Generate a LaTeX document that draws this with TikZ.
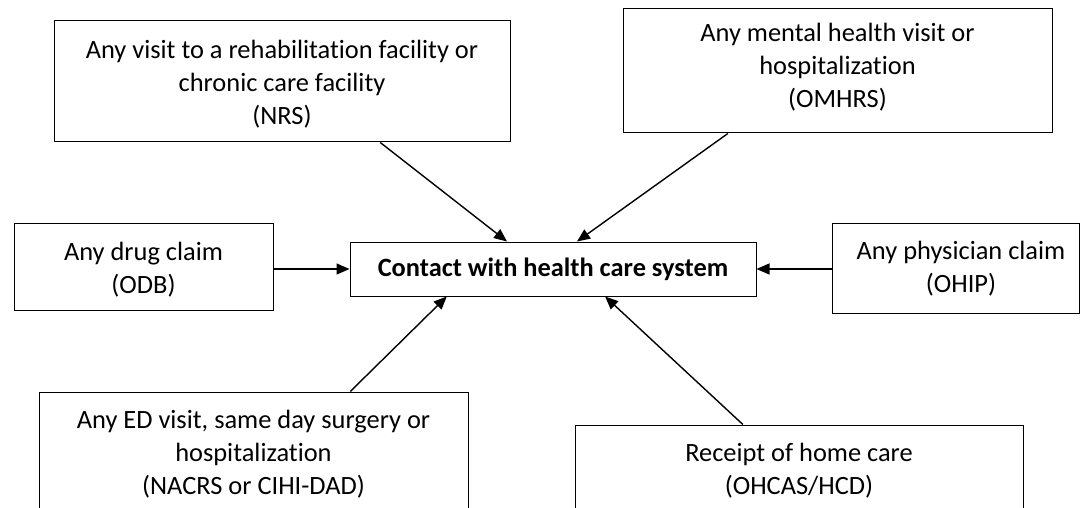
\documentclass[tikz,border=0pt]{standalone}
\usepackage{fontspec}
\setmainfont{Carlito}[Ligatures={NoCommon,NoContextual}]
\usetikzlibrary{arrows.meta,calc}
\begin{document}
\begin{tikzpicture}[x=1pt,y=-1pt,
  box/.style={draw,line width=1pt,align=center,inner sep=0pt,font=\fontsize{26.4}{33}\selectfont},
  arr/.style={line width=1.4pt,-{Triangle[length=13pt,width=11pt]}}]
\useasboundingbox (0,0) rectangle (1080,508);
\clip (0,0) rectangle (1080,508);
\node[box,minimum width=456pt,minimum height=121pt] (nrs) at (282,81.5)
  {\rule{0pt}{24pt}Any visit to a rehabilitation facility or\\chronic care facility\\(NRS)};
\node[box,minimum width=429pt,minimum height=124pt] (omhrs) at (837.5,71)
  {Any mental health visit or\\hospitalization\\(OMHRS)\rule[-12pt]{0pt}{0pt}};
\node[box,minimum width=259pt,minimum height=86pt] (odb) at (143.5,267)
  {\rule{0pt}{24pt}Any drug claim\\(ODB)};
\node[box,minimum width=406pt,minimum height=54pt,font=\fontsize{26.4}{33}\selectfont\bfseries] (c) at (553,269)
  {Contact with health care system};
\node[box,minimum width=247pt,minimum height=89pt] (ohip) at (955.5,268.5)
  {\hspace*{11pt}Any physician claim\\\hspace*{11pt}(OHIP)};
\node[box,minimum width=429pt,minimum height=124pt] (ed) at (253.5,454)
  {Any ED visit, same day surgery or\\hospitalization\\(NACRS or CIHI-DAD)};
\node[box,minimum width=448pt,minimum height=91pt] (home) at (799,470.5)
  {Receipt of home care\\(OHCAS/HCD)};
\draw[arr] ($(nrs.south west)!0.715!(nrs.south east)$) -- ($(c.north west)!0.387!(c.north east)$);
\draw[arr] ($(omhrs.south west)!0.245!(omhrs.south east)$) -- ($(c.north west)!0.559!(c.north east)$);
\draw[arr] (odb.east |- c.west) -- (c.west);
\draw[arr] (ohip.west |- c.east) -- (c.east);
\draw[arr] ($(ed.north west)!0.725!(ed.north east)$) -- ($(c.south west)!0.239!(c.south east)$);
\draw[arr] ($(home.north west)!0.375!(home.north east)$) -- ($(c.south west)!0.628!(c.south east)$);
\end{tikzpicture}
\end{document}
